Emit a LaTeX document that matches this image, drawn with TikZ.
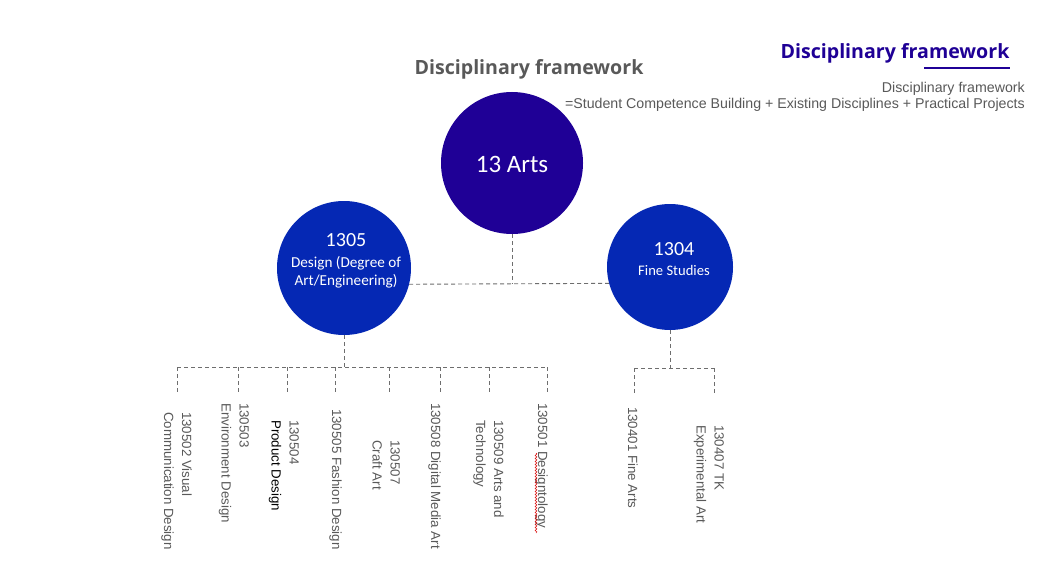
\documentclass[tikz,border=0pt]{standalone}
\usepackage{fontspec}
\setmainfont{Liberation Sans}
\newfontfamily\circfont{Carlito}
\newfontfamily\headfont{Open Sans}
\usetikzlibrary{decorations.pathmorphing}

\definecolor{artsblue}{RGB}{31,0,150}
\definecolor{subblue}{RGB}{5,40,180}
\definecolor{textgray}{RGB}{89,89,89}
\definecolor{linegray}{RGB}{110,110,110}

\tikzset{
  disc/.style={circle, inner sep=0pt, draw=none},
  conn/.style={draw=linegray, line width=0.9pt, dash pattern=on 4pt off 3pt},
  leaf/.style={rotate=-90, anchor=north west, inner sep=0pt, align=left,
    font=\fontsize{13.3}{18}\selectfont, text=textgray},
  intext/.style={text=white, align=center, inner sep=0pt},
}

\begin{document}
\begin{tikzpicture}[x=1pt, y=-1pt]
\useasboundingbox[fill=white] (0,0) rectangle (1038,583);

% headings
\node[font=\headfont\bfseries\fontsize{19.6}{22}\selectfont, text=textgray] (title) at (529,69) {Disciplinary framework};
\node[font=\headfont\bfseries\fontsize{19.6}{22}\selectfont, text=artsblue] (corner) at (895,53) {Disciplinary framework};
\coordinate (ulA) at (924,68);
\coordinate (ulB) at (1010,68);
\draw[artsblue, line width=1.2pt] (ulA) -- (ulB);
\node[anchor=east, inner sep=0pt, font=\fontsize{14.2}{16}\selectfont, text=textgray] (eq1) at (1025,89) {Disciplinary framework};
\node[anchor=east, inner sep=0pt, font=\fontsize{14.2}{16}\selectfont, text=textgray] (eq2) at (1025,105) {=Student Competence Building + Existing Disciplines + Practical Projects};

% circles
\node[disc, fill=artsblue, minimum size=142pt] (arts) at (512,163) {};
\node[disc, fill=subblue, minimum size=134pt] (design) at (344,268) {};
\node[disc, fill=subblue, minimum size=126pt] (fine) at (670,267) {};

\node[intext, font=\circfont\fontsize{25}{28}\selectfont] (artsT) at (512,164) {13 Arts};
\node[intext, font=\circfont\fontsize{20}{22}\selectfont] (designN) at (346,240) {1305};
\node[intext, font=\circfont\fontsize{15.2}{18}\selectfont] (designT) at (346,272) {Design (Degree of\\Art/Engineering)};
\node[intext, font=\circfont\fontsize{20}{22}\selectfont] (fineN) at (674,249) {1304};
\node[intext, font=\circfont\fontsize{14.6}{16}\selectfont] (fineT) at (674,270) {Fine Studies};

% upper connectors
\coordinate (jTop) at (512,284);
\draw[conn] (arts.south) -- (jTop);
\draw[conn] (design.-14) -- (fine.195.6);

% design branch
\coordinate (jD) at (344,367);
\draw[conn] (design.south) -- (jD);
\coordinate (hL) at (177,367);
\coordinate (hR) at (547,367);
\draw[conn] (hL) -- (hR);
\foreach \x [count=\i] in {177,238,287,335,389,440,489,547}{
  \coordinate (d\i) at (\x,367);
  \coordinate (e\i) at (\x,393);
  \draw[conn] (d\i) -- (e\i);
}

% fine studies branch
\coordinate (jF) at (670,368);
\draw[conn] (fine.south) -- (jF);
\coordinate (fL) at (634,368);
\coordinate (fR) at (714,368);
\draw[conn] (fL) -- (fR);
\coordinate (f1) at (634,393);
\coordinate (f2) at (714,393);
\draw[conn] (fL) -- (f1);
\draw[conn] (fR) -- (f2);

% programme labels
\node[leaf] (l1) at (192,412) {130502 Visual\\Communication Design};
\node[leaf] (l2) at (249,403) {130503\\Environment Design};
\node[leaf] (l3) at (299,420) {130504\\{\color{black}Product Design}};
\node[leaf] (l4) at (342,409) {130505 Fashion Design};
\node[leaf] (l5) at (400,440) {130507\\Craft Art};
\node[leaf] (l6) at (441,403) {130508 Digital Media Art};
\node[leaf] (l7) at (504,420) {130509 Arts and\\Technology};
\node[leaf] (l8) at (548,403) {130501 Designtology};
\node[leaf] (l9) at (638,407) {130401 Fine Arts};
\node[leaf] (l10) at (724,425) {130407 TK\\Experimental Art};

% spelling mark under the last word of l8
\coordinate (sqA) at (536,453);
\coordinate (sqB) at (536,533);
\draw[red!85!black, line width=0.5pt, decorate,
  decoration={snake, amplitude=0.9pt, segment length=3pt}] (sqA) -- (sqB);
\end{tikzpicture}
\end{document}
